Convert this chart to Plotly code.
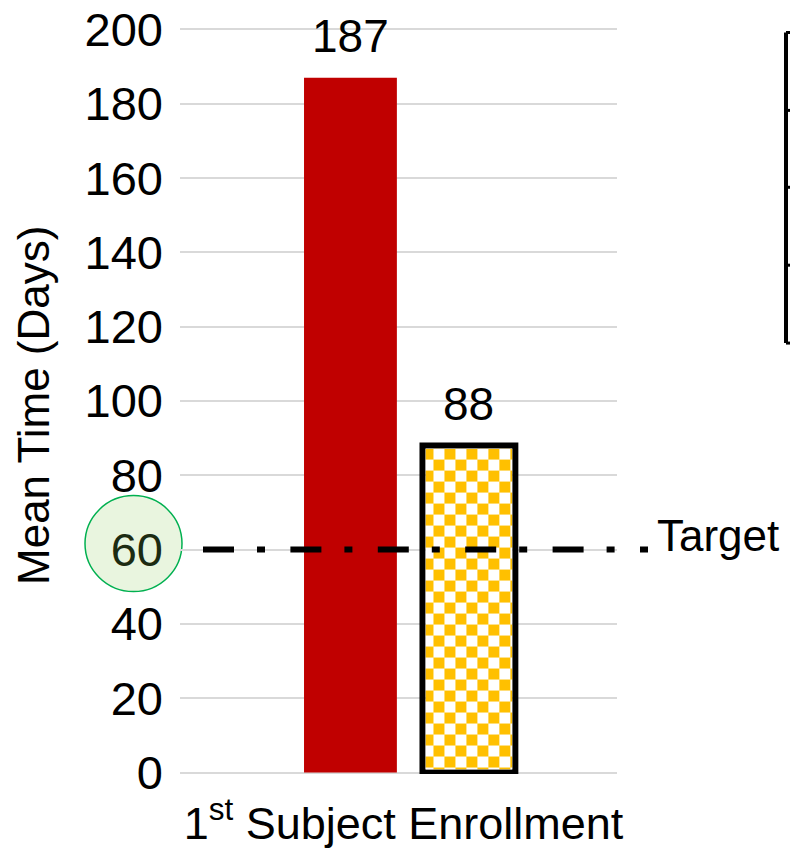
import base64
import plotly.graph_objects as go

# ---- data ----
categories = ["1<sup>st</sup> Subject Enrollment"]
baseline_days = [187]
improved_days = [88]
target_days = 60
y_ticks = [0, 20, 40, 60, 80, 100, 120, 140, 160, 180, 200]
y_tick_labels = [str(v) for v in y_ticks]

# ---- layout geometry (pixels) ----
FIG_W, FIG_H = 790, 852
Y_LO, Y_HI = -0.4, 200.4          # small padding so the 0 / 200 gridlines are kept
ZERO_PX, TOP_PX = 773, 29          # pixel rows of the 0 and 200 gridlines
PX_PER_UNIT_Y = (ZERO_PX - TOP_PX) / 200
PLOT_L, PLOT_R = 180, 617
PLOT_T = TOP_PX - (Y_HI - 200) * PX_PER_UNIT_Y
PLOT_B = ZERO_PX + (0 - Y_LO) * PX_PER_UNIT_Y
PW, PH = PLOT_R - PLOT_L, PLOT_B - PLOT_T
PX_PER_UNIT_X = PW  # x range spans one unit


def fx(px):
    return (px - PLOT_L) / PW


def fy(py):
    return (PLOT_B - py) / PH


FONT = "Liberation Sans, Arial, sans-serif"
RED = "#C00000"
GOLD = "#FFC000"

BAR_W = 0.2125
RED_OFFSET = -0.2162
GOLD_OFFSET = 0.0549
BORDER = 6

x_pos = list(range(len(categories)))

fig = go.Figure()

fig.add_trace(go.Bar(
    x=x_pos, y=baseline_days, width=BAR_W, offset=RED_OFFSET,
    marker=dict(color=RED, line=dict(width=0)),
    showlegend=False, hoverinfo="y",
))

fig.add_trace(go.Bar(
    x=x_pos, y=improved_days, width=BAR_W, offset=GOLD_OFFSET,
    marker=dict(color="rgba(0,0,0,0)", line=dict(color="black", width=BORDER)),
    showlegend=False, hoverinfo="y",
))

# checkerboard fill for the second bar, kept inside its outline
inset_x = (BORDER / 2) / PX_PER_UNIT_X
inset_y = (BORDER / 2) / PX_PER_UNIT_Y
img_w = round(BAR_W * PX_PER_UNIT_X - BORDER)
img_h = round(improved_days[0] * PX_PER_UNIT_Y - BORDER)
cell = 11
svg = (
    f"<svg xmlns='http://www.w3.org/2000/svg' width='{img_w}' height='{img_h}' "
    f"viewBox='0 0 {img_w} {img_h}' preserveAspectRatio='none'>"
    f"<defs><pattern id='c' width='{2*cell}' height='{2*cell}' patternUnits='userSpaceOnUse' x='-3' y='0'>"
    f"<rect width='{2*cell}' height='{2*cell}' fill='#ffffff'/>"
    f"<rect width='{cell}' height='{cell}' fill='{GOLD}'/>"
    f"<rect x='{cell}' y='{cell}' width='{cell}' height='{cell}' fill='{GOLD}'/>"
    f"</pattern></defs><rect width='{img_w}' height='{img_h}' fill='url(#c)'/></svg>"
)
svg_uri = "data:image/svg+xml;base64," + base64.b64encode(svg.encode()).decode()

fig.add_layout_image(dict(
    source=svg_uri, xref="x", yref="y",
    x=x_pos[0] + GOLD_OFFSET + inset_x, y=improved_days[0] - inset_y,
    sizex=BAR_W - 2 * inset_x, sizey=improved_days[0] - 2 * inset_y,
    xanchor="left", yanchor="top", sizing="stretch", layer="above",
))

# value labels above bars
for val, off in [(baseline_days[0], RED_OFFSET), (improved_days[0], GOLD_OFFSET)]:
    fig.add_annotation(
        x=x_pos[0] + off + BAR_W / 2, y=val, xref="x", yref="y",
        text=str(val), showarrow=False, yanchor="bottom", yshift=14,
        font=dict(family=FONT, size=46, color="black"),
    )

# target line
fig.add_shape(
    type="line", xref="paper", yref="y",
    x0=fx(203), x1=fx(648), y0=target_days, y1=target_days,
    line=dict(color="black", width=6, dash="31px,23px,8px,25.4px"),
    layer="above",
)
fig.add_annotation(
    x=fx(655), y=target_days, xref="paper", yref="y",
    text="Target", showarrow=False, xanchor="left", yanchor="middle", yshift=14,
    font=dict(family=FONT, size=44, color="black"),
)

# highlight circle around the target tick
fig.add_shape(
    type="circle", xref="paper", yref="y",
    xsizemode="pixel", ysizemode="pixel",
    xanchor=0, yanchor=target_days,
    x0=85 - PLOT_L, x1=182 - PLOT_L, y0=-42, y1=54,
    line=dict(color="#00B050", width=1.5), fillcolor="#E9F5DF",
    layer="below",
)

# edge of the table at right
TABLE_X = 786
table_rows = [32, 110, 187, 265, 343]
fig.add_shape(type="line", xref="paper", yref="paper",
              x0=fx(TABLE_X), x1=fx(TABLE_X), y0=fy(table_rows[0]), y1=fy(table_rows[-1]),
              line=dict(color="black", width=4))
for r in table_rows:
    fig.add_shape(type="line", xref="paper", yref="paper",
                  x0=fx(TABLE_X), x1=fx(FIG_W + 5), y0=fy(r), y1=fy(r),
                  line=dict(color="black", width=3))

# y axis title
fig.add_annotation(
    x=fx(34), y=fy(406), xref="paper", yref="paper",
    text="Mean Time (Days)", textangle=-90, showarrow=False,
    xanchor="center", yanchor="middle",
    font=dict(family=FONT, size=44, color="black"),
)

tick_text = [
    f"<span style='color:#1c2b12'>{t}</span>" if v == target_days else t
    for v, t in zip(y_ticks, y_tick_labels)
]

fig.update_layout(
    width=FIG_W, height=FIG_H,
    margin=dict(l=PLOT_L, r=FIG_W - PLOT_R, t=PLOT_T, b=FIG_H - PLOT_B, pad=0),
    paper_bgcolor="white", plot_bgcolor="rgba(0,0,0,0)",
    barmode="overlay", showlegend=False,
    xaxis=dict(
        range=[-0.5, 0.5], tickvals=x_pos, ticktext=categories,
        showgrid=False, zeroline=False, showline=False, ticks="",
        tickfont=dict(family=FONT, size=45, color="black"),
        ticklabelstandoff=19, ticklabelshift=5, automargin=False,
    ),
    yaxis=dict(
        range=[Y_LO, Y_HI], tickvals=y_ticks, ticktext=tick_text,
        showgrid=True, gridcolor="#d9d9d9", gridwidth=2,
        zeroline=False, showline=False, ticks="",
        tickfont=dict(family=FONT, size=47, color="black"),
        ticklabelstandoff=16, automargin=False,
    ),
)

fig.write_html("out.html")
